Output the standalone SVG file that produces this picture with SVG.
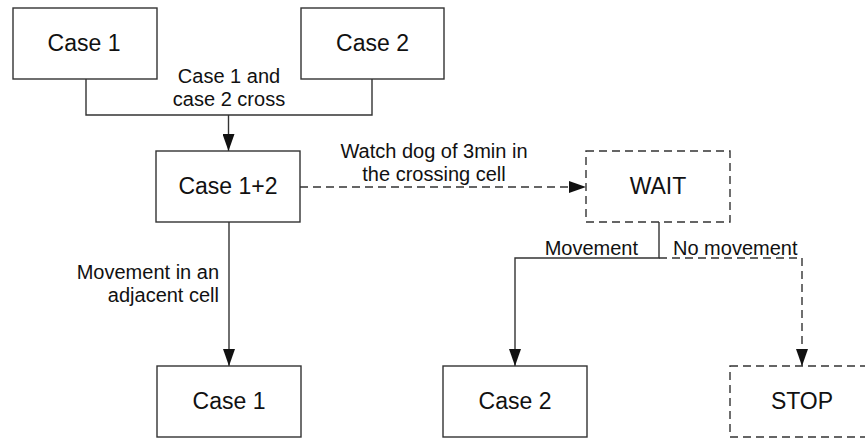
<svg xmlns="http://www.w3.org/2000/svg" width="865" height="438" viewBox="0 0 865 438">
  <style>
    .box { fill: #fff; stroke: #333; stroke-width: 1.4; }
    .dash { stroke-dasharray: 8 5; }
    .node-text { font-family: "Liberation Sans", Arial, sans-serif; font-size: 23px; fill: #111; text-anchor: middle; }
    .label { font-family: "Liberation Sans", Arial, sans-serif; font-size: 20px; fill: #111; }
    .line { fill: none; stroke: #333; stroke-width: 1.4; }
  </style>
  <defs>
    <marker id="arrow" viewBox="0 0 17 12" refX="17" refY="6" markerWidth="17" markerHeight="12" markerUnits="userSpaceOnUse" orient="auto">
      <path d="M0,0 L17,6 L0,12 Z" fill="#111"/>
    </marker>
  </defs>
  <rect width="865" height="438" fill="#fff"/>

  <!-- connectors -->
  <g id="connectors">
    <polyline class="line" points="86,79 86,115 372,115 372,79"/>
    <line class="line" x1="228.5" y1="115" x2="228.5" y2="151" marker-end="url(#arrow)"/>
    <line class="line dash" x1="300" y1="187" x2="586" y2="187" marker-end="url(#arrow)"/>
    <line class="line" x1="229" y1="222" x2="229" y2="366" marker-end="url(#arrow)"/>
    <polyline class="line" points="659,222 659,258 515,258 515,366" marker-end="url(#arrow)"/>
    <polyline class="line dash" points="659,258 802,258 802,366" marker-end="url(#arrow)"/>

    <text class="label" text-anchor="middle" x="229" y="83">Case 1 and</text>
    <text class="label" text-anchor="middle" x="229" y="106">case 2 cross</text>
    <text class="label" text-anchor="middle" x="434" y="158">Watch dog of 3min in</text>
    <text class="label" text-anchor="middle" x="434" y="181">the crossing cell</text>
    <text class="label" text-anchor="end" x="219" y="279">Movement in an</text>
    <text class="label" text-anchor="end" x="219" y="302">adjacent cell</text>
    <text class="label" text-anchor="end" x="638" y="255">Movement</text>
    <text class="label" text-anchor="start" x="673" y="255">No movement</text>
  </g>

  <g id="case1-top">
    <rect class="box" x="13" y="8" width="144" height="71"/>
    <text class="node-text" x="84" y="51">Case 1</text>
  </g>
  <g id="case2-top">
    <rect class="box" x="301" y="8" width="143" height="71"/>
    <text class="node-text" x="372.5" y="51">Case 2</text>
  </g>
  <g id="case12">
    <rect class="box" x="156" y="151" width="144" height="71"/>
    <text class="node-text" x="228" y="194">Case 1+2</text>
  </g>
  <g id="wait">
    <rect class="box dash" x="586" y="151" width="144" height="71"/>
    <text class="node-text" x="658" y="194">WAIT</text>
  </g>
  <g id="case1-bottom">
    <rect class="box" x="157" y="366" width="144" height="71"/>
    <text class="node-text" x="229" y="409">Case 1</text>
  </g>
  <g id="case2-bottom">
    <rect class="box" x="443" y="366" width="144" height="71"/>
    <text class="node-text" x="515" y="409">Case 2</text>
  </g>
  <g id="stop">
    <rect class="box dash" x="730" y="366" width="144" height="71"/>
    <text class="node-text" x="802" y="409">STOP</text>
  </g>
</svg>
